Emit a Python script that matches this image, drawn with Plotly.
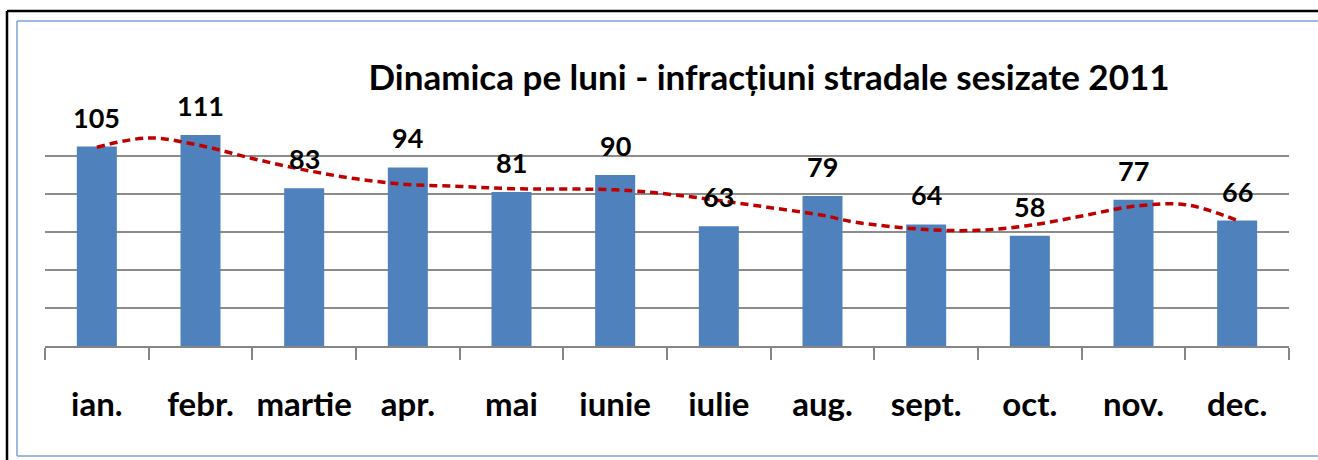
import plotly.graph_objects as go

months = ["ian.", "febr.", "martie", "apr.", "mai", "iunie", "iulie", "aug.", "sept.", "oct.", "nov.", "dec."]
values = [105, 111, 83, 94, 81, 90, 63, 79, 64, 58, 77, 66]

# trend curve (position in month index, value)
trend_x = [0, 0.5, 1, 1.5, 2, 2.5, 3, 3.5, 4, 5, 5.5, 6, 6.5, 7, 7.3, 8, 8.5, 9, 9.5, 10, 10.5, 11]
trend_y = [104.6, 109.5, 105.5, 98.7, 92.7, 88, 85, 84, 82.8, 82.2, 80, 76.6, 72.8, 68.8, 65.3,
           61.3, 60.9, 63.5, 68.4, 73.5, 74.4, 66.1]

title_text = "Dinamica pe luni - infracțiuni stradale sesizate 2011"

W, H = 1318, 460
PLOT_L, PLOT_R, PLOT_T, PLOT_B = 45, 1289, 118, 346  # page pixels
L, R, T, B = PLOT_L, W - PLOT_R, PLOT_T, H - PLOT_B
PW, PH = W - L - R, H - T - B


def px_x(p):
    return (p - L) / PW


def px_y(p):
    return (H - B - p) / PH


def hline(y, x0, x1, color, width):
    return dict(type="line", xref="paper", yref="paper", x0=px_x(x0), x1=px_x(x1), y0=px_y(y), y1=px_y(y),
                line=dict(color=color, width=width), layer="above")


def vline(x, y0, y1, color, width):
    return dict(type="line", xref="paper", yref="paper", x0=px_x(x), x1=px_x(x), y0=px_y(y0), y1=px_y(y1),
                line=dict(color=color, width=width), layer="above")


fig = go.Figure()
fig.add_trace(go.Bar(x=months, y=values, marker=dict(color="#4F81BD", line=dict(width=0)),
                     showlegend=False, hoverinfo="x+y"))
fig.add_trace(go.Scatter(x=trend_x, y=trend_y, xaxis="x2", mode="lines",
                         line=dict(color="#C00000", width=3.5, dash="8px,5px", shape="spline", smoothing=1.0),
                         showlegend=False, hoverinfo="skip"))

for m, v in zip(months, values):
    fig.add_annotation(x=m, y=v, text=str(v), showarrow=False, yanchor="bottom", yshift=11,
                       font=dict(family="Lato", size=27, color="black", weight="bold"))

fig.update_layout(
    width=W, height=H,
    margin=dict(l=L, r=R, t=T, b=B, autoexpand=False),
    paper_bgcolor="white", plot_bgcolor="white",
    bargap=0.614,
    title=dict(text=title_text, xref="container", yref="container", x=769 / W, xanchor="center",
               y=1 - 78 / H, yanchor="middle",
               font=dict(family="Lato", size=35, color="black", weight="bold")),
    xaxis=dict(type="category", tickson="boundaries", ticks="outside", ticklen=12, tickwidth=2,
               tickcolor="#868686", showline=True, linecolor="#868686", linewidth=2,
               showgrid=False, ticklabelstandoff=28, tickangle=0, automargin=False,
               tickfont=dict(family="Lato", size=33, color="black", weight="bold")),
    xaxis2=dict(overlaying="x", type="linear", range=[-0.5, 11.5], visible=False),
    yaxis=dict(range=[0, 120], dtick=20, showgrid=True, gridcolor="#8C8C8C", gridwidth=2,
               showticklabels=False, zeroline=False, ticks="", automargin=False),
    shapes=[
        hline(11, 7, 1340, "black", 2.5),
        vline(7, 11, 480, "black", 2.5),
        hline(21, 17, 1340, "#7BA3D6", 1.5),
        vline(17, 21, 456, "#7BA3D6", 1.5),
        hline(456, 17, 1340, "#7BA3D6", 1.5),
    ],
)

fig.write_html("out.html", config={"displayModeBar": False},
               post_script="document.body.style.margin='0';document.body.style.overflow='hidden';")
